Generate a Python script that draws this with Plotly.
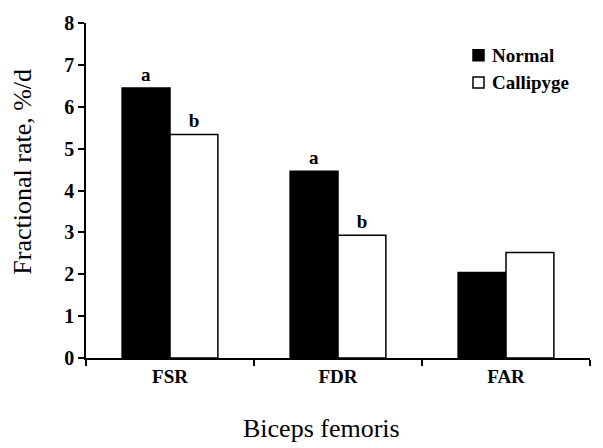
import plotly.graph_objects as go

categories = ["FSR", "FDR", "FAR"]
normal = [6.45, 4.46, 2.04]
callipyge = [5.34, 2.93, 2.52]
normal_letters = ["a", "a", ""]
callipyge_letters = ["b", "b", ""]
y_ticks = [0, 1, 2, 3, 4, 5, 6, 7, 8]
series_names = ["Normal", "Callipyge"]
series_fills = ["black", "white"]

SERIF = "Liberation Serif"
W, H = 603, 448
L, R, T, B = 86, 13, 20, 90
PW, PH = W - L - R, H - T - B


def px_x(p):
    return (p - L) / PW


def px_y(p):
    return (H - B - p) / PH


fig = go.Figure()
for name, vals, letters, fill in zip(series_names, [normal, callipyge],
                                     [normal_letters, callipyge_letters], series_fills):
    fig.add_trace(go.Bar(
        name=name, x=categories, y=vals, showlegend=False,
        marker=dict(color=fill, line=dict(color="black", width=1.5)),
        text=letters, textposition="outside", cliponaxis=False, constraintext="none",
        textfont=dict(family=SERIF, size=19, color="black", weight="bold"),
    ))

# manual legend (swatch + label)
legend_rows_y = [52.5, 80]
for name, fill, cy in zip(series_names, series_fills, legend_rows_y):
    fig.add_shape(type="rect", xref="paper", yref="paper",
                  x0=px_x(473), x1=px_x(484), y0=px_y(cy + 5.5), y1=px_y(cy - 5.5),
                  fillcolor=fill, line=dict(color="black", width=1.5))
    fig.add_annotation(text=name, xref="paper", yref="paper",
                       x=px_x(490), y=px_y(cy), xanchor="left", yanchor="middle",
                       showarrow=False,
                       font=dict(family=SERIF, size=19, color="black", weight="bold"))

# axis titles
fig.add_annotation(text="Fractional rate, %/d", xref="paper", yref="paper",
                   x=px_x(23), y=px_y(170), textangle=-90, showarrow=False,
                   xanchor="center", yanchor="middle",
                   font=dict(family=SERIF, size=26, color="black"))
fig.add_annotation(text="Biceps femoris", xref="paper", yref="paper",
                   x=px_x(321), y=px_y(429), showarrow=False,
                   xanchor="center", yanchor="middle",
                   font=dict(family=SERIF, size=26, color="black"))

fig.update_layout(
    width=W, height=H,
    margin=dict(l=L, r=R, t=T, b=B),
    paper_bgcolor="white", plot_bgcolor="white",
    barmode="group", bargap=0.43, bargroupgap=0,
    font=dict(family=SERIF, color="black"),
    xaxis=dict(
        showline=True, linecolor="black", linewidth=1.5,
        ticks="outside", tickson="boundaries", ticklen=6, tickcolor="black", tickwidth=1.5,
        tickfont=dict(family=SERIF, size=19, color="black", weight="bold"),
        showgrid=False, zeroline=False,
    ),
    yaxis=dict(
        range=[0, 8], tickvals=y_ticks,
        showline=True, linecolor="black", linewidth=1.5,
        ticks="outside", ticklen=6, tickcolor="black", tickwidth=1.5,
        tickfont=dict(family=SERIF, size=20, color="black", weight="bold"),
        showgrid=False, zeroline=False,
    ),
)

fig.write_html("out.html")
